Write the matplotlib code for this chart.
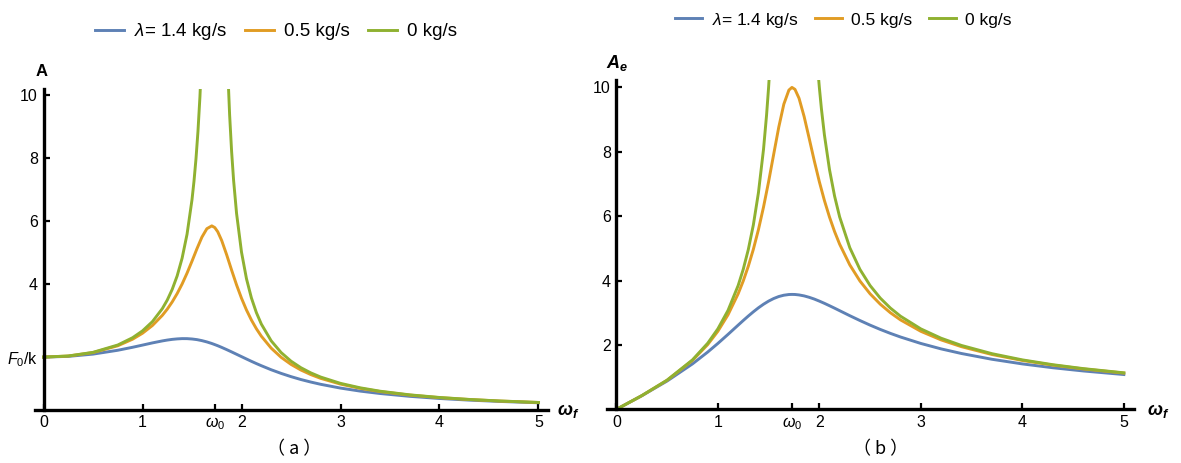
import matplotlib
matplotlib.use('Agg')
import matplotlib.pyplot as plt

nan = float('nan')

# ---------------- data ----------------
omega = [0, 0.25, 0.5, 0.75, 0.9, 1.0, 1.1, 1.2, 1.25, 1.3,
         1.35, 1.4, 1.45, 1.5, 1.55, 1.6, 1.65, 1.7, 1.73, 1.76,
         1.8, 1.85, 1.9, 1.95, 2.0, 2.05, 2.1, 2.15, 2.2, 2.3,
         2.4, 2.5, 2.6, 2.7, 2.8, 3.0, 3.2, 3.4, 3.7, 4.0,
         4.3, 4.6, 5.0]

# panel (a): amplitude A
amp_a_14 = [1.667, 1.690, 1.762, 1.884, 1.979, 2.048, 2.118, 2.181, 2.208, 2.230,
            2.245, 2.254, 2.253, 2.242, 2.222, 2.190, 2.149, 2.099, 2.064, 2.028,
            1.975, 1.905, 1.832, 1.757, 1.682, 1.607, 1.533, 1.462, 1.394, 1.265,
            1.150, 1.047, 0.955, 0.875, 0.803, 0.683, 0.587, 0.511, 0.421, 0.353,
            0.301, 0.260, 0.217]
amp_a_05 = [1.667, 1.701, 1.811, 2.027, 2.236, 2.425, 2.670, 2.992, 3.190, 3.419,
            3.684, 3.988, 4.334, 4.714, 5.109, 5.476, 5.744, 5.834, 5.780, 5.647,
            5.368, 4.917, 4.429, 3.960, 3.536, 3.164, 2.844, 2.569, 2.332, 1.951,
            1.661, 1.436, 1.257, 1.112, 0.992, 0.809, 0.674, 0.573, 0.461, 0.380,
            0.320, 0.273, 0.226]
omega_g_a = [0, 0.25, 0.5, 0.75, 0.9, 1.0, 1.1, 1.2, 1.25, 1.3, 1.35, 1.4, 1.45,
             1.5, 1.52, 1.54, 1.56, 1.58, 1.6, 1.73, 1.86, 1.88, 1.9, 1.92, 1.95,
             2.0, 2.05, 2.1, 2.15, 2.2, 2.3, 2.4, 2.5, 2.6, 2.7, 2.8, 3.0, 3.2,
             3.4, 3.7, 4.0, 4.3, 4.6, 5.0]
amp_a_0 = [1.667, 1.702, 1.818, 2.051, 2.283, 2.500, 2.793, 3.205, 3.478, 3.817,
           4.246, 4.808, 5.571, 6.667, 7.251, 7.957, 8.828, 9.929, 11.364, nan,
           10.879, 9.356, 8.197, 7.284, 6.231, 5.000, 4.158, 3.546, 3.082, 2.717,
           2.183, 1.812, 1.538, 1.330, 1.166, 1.033, 0.833, 0.691, 0.584, 0.468,
           0.385, 0.323, 0.275, 0.227]

# panel (b): A_e
amp_b_14 = [0, 0.423, 0.881, 1.413, 1.781, 2.048, 2.329, 2.617, 2.760, 2.899,
            3.031, 3.155, 3.266, 3.363, 3.443, 3.505, 3.546, 3.568, 3.571, 3.569,
            3.555, 3.525, 3.481, 3.427, 3.363, 3.294, 3.220, 3.144, 3.066, 2.910,
            2.760, 2.617, 2.484, 2.361, 2.248, 2.048, 1.879, 1.736, 1.557, 1.413,
            1.294, 1.194, 1.083]
amp_b_05 = [0, 0.425, 0.905, 1.521, 2.013, 2.425, 2.937, 3.590, 3.987, 4.445,
            4.973, 5.584, 6.284, 7.071, 7.920, 8.762, 9.478, 9.917, 10.000, 9.939,
            9.662, 9.096, 8.415, 7.721, 7.071, 6.487, 5.973, 5.523, 5.131, 4.488,
            3.987, 3.590, 3.268, 3.002, 2.779, 2.425, 2.158, 1.948, 1.705, 1.520,
            1.375, 1.257, 1.129]
omega_g_b = [0, 0.25, 0.5, 0.75, 0.9, 1.0, 1.1, 1.2, 1.25, 1.3, 1.35, 1.4, 1.45,
             1.48, 1.5, 1.52, 1.73, 1.98, 2.0, 2.02, 2.05, 2.1, 2.15, 2.2, 2.3,
             2.4, 2.5, 2.6, 2.7, 2.8, 3.0, 3.2, 3.4, 3.7, 4.0, 4.3, 4.6, 5.0]
amp_b_0 = [0, 0.426, 0.909, 1.538, 2.055, 2.500, 3.073, 3.846, 4.348, 4.962,
           5.732, 6.731, 8.078, 9.140, 10.000, 11.021, nan, 10.756, 10.000, 9.348,
           8.524, 7.447, 6.626, 5.978, 5.022, 4.348, 3.846, 3.457, 3.147, 2.893,
           2.500, 2.210, 1.986, 1.731, 1.538, 1.388, 1.267, 1.136]

series_labels = [r'$\lambda$= 1.4 kg/s', '0.5 kg/s', '0 kg/s']
omega0 = 1.732
xticks = [0, 1, omega0, 2, 3, 4, 5]
xtick_labels = ['0', '1', r'$\omega_0$', '2', '3', '4', '5']
yticks_a = [1.667, 4, 6, 8, 10]
ytick_labels_a = [r'$F_0$/k', '4', '6', '8', '10']
yticks_b = [2, 4, 6, 8, 10]
ytick_labels_b = ['2', '4', '6', '8', '10']

colors = ['#5E81B5', '#E19C24', '#8FB131']

# ---------------- style ----------------
plt.rcParams['font.family'] = ['Liberation Sans', 'DejaVu Sans']
plt.rcParams['mathtext.fontset'] = 'custom'
plt.rcParams['mathtext.rm'] = 'Liberation Sans'
plt.rcParams['mathtext.it'] = 'Liberation Sans:italic'
plt.rcParams['mathtext.bf'] = 'Liberation Sans:bold'
plt.rcParams['mathtext.bfit'] = 'Liberation Sans:bold:italic'

W, H = 1181, 463
fig = plt.figure(figsize=(W / 100, H / 100), dpi=100)


def add_ax(left, right, bottom, top):
    return fig.add_axes([left / W, 1 - bottom / H, (right - left) / W, (bottom - top) / H])


def style(ax, xlim, ylim, yt, ytl):
    ax.set_xlim(*xlim)
    ax.set_ylim(*ylim)
    for s in ['top', 'right']:
        ax.spines[s].set_visible(False)
    ax.spines['left'].set_position(('data', 0))
    ax.spines['left'].set_linewidth(2.4)
    ax.spines['bottom'].set_linewidth(2.4)
    ax.set_xticks(xticks)
    ax.set_xticklabels(xtick_labels)
    ax.set_yticks(yt)
    ax.set_yticklabels(ytl)
    ax.tick_params(direction='in', length=4.5, width=1.6, labelsize=11.5, pad=4)
    ax.patch.set_visible(False)


lw = 2.1
# panel (a)
axa = add_ax(35, 548, 409.6, 89)
la1, = axa.plot(omega, amp_a_14, color=colors[0], lw=lw)
la2, = axa.plot(omega, amp_a_05, color=colors[1], lw=lw)
la3, = axa.plot(omega_g_a, amp_a_0, color=colors[2], lw=lw)
style(axa, (-0.086, 5.096), (0, 10.18), yticks_a, ytick_labels_a)

# panel (b)
axb = add_ax(607, 1134, 409.4, 80)
lb1, = axb.plot(omega, amp_b_14, color=colors[0], lw=lw)
lb2, = axb.plot(omega, amp_b_05, color=colors[1], lw=lw)
lb3, = axb.plot(omega_g_b, amp_b_0, color=colors[2], lw=lw)
style(axb, (-0.092, 5.1), (0, 10.23), yticks_b, ytick_labels_b)

# legends
fig.legend([la1, la2, la3], series_labels, loc='center', ncol=3, frameon=False,
           fontsize=13.5, handlelength=1.55, handletextpad=0.55, columnspacing=0.95,
           bbox_to_anchor=(276 / W, 1 - 32 / H))
fig.legend([lb1, lb2, lb3], series_labels, loc='center', ncol=3, frameon=False,
           fontsize=12.5, handlelength=1.55, handletextpad=0.55, columnspacing=0.95,
           bbox_to_anchor=(843.5 / W, 1 - 20 / H))


def ftext(x, y, s, **kw):
    fig.text(x / W, 1 - y / H, s, **kw)


ftext(41.7, 71, 'A', fontsize=12, fontweight='bold', ha='center', va='center')
ftext(617, 63, r'$\mathbfit{A}_{\mathbfit{e}}$', fontsize=13, ha='center', va='center')
ftext(557, 411, r'$\mathbfit{\omega}_{\mathbfit{f}}$', fontsize=13, ha='left', va='center')
ftext(1147, 411, r'$\mathbfit{\omega}_{\mathbfit{f}}$', fontsize=13, ha='left', va='center')
ftext(294, 449, '（ a ）', fontsize=13, ha='center', va='center',
      family=['Noto Sans CJK SC', 'DejaVu Sans'])
ftext(881, 449, '（ b ）', fontsize=13, ha='center', va='center',
      family=['Noto Sans CJK SC', 'DejaVu Sans'])

fig.savefig('out.png', dpi=100)
